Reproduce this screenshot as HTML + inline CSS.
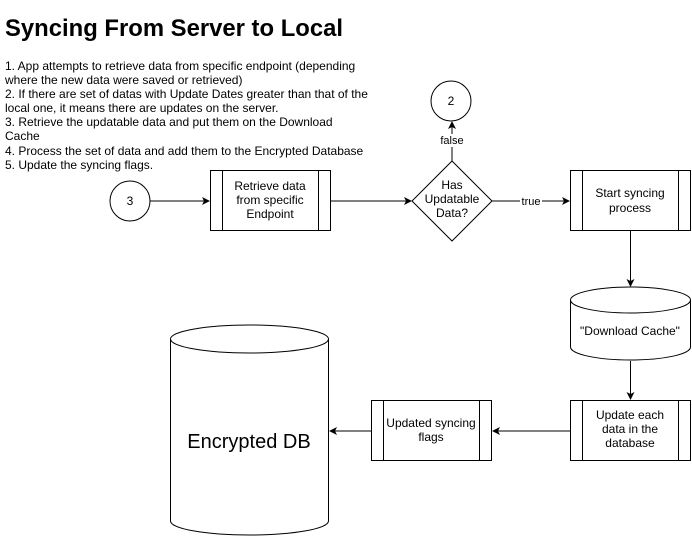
<!DOCTYPE html>
<html><head><meta charset="utf-8"><style>
html,body{margin:0;padding:0;background:#fff;width:692px;height:536px;overflow:hidden}
svg{display:block}
text{font-family:"Liberation Sans",Arial,sans-serif;fill:#000}
</style></head><body>
<svg width="692" height="536" viewBox="0 0 692 536" xmlns="http://www.w3.org/2000/svg">
<defs><marker id="a" markerWidth="10" markerHeight="10" refX="8" refY="5" orient="auto" markerUnits="userSpaceOnUse"><path d="M1,1 L9,5 L1,9 L3,5 Z" fill="#000"/></marker></defs>
<text x="5" y="36" font-size="24" font-weight="bold" textLength="338" lengthAdjust="spacingAndGlyphs">Syncing From Server to Local</text>
<g font-size="12">
<text x="5" y="70">1. App attempts to retrieve data from specific endpoint (depending</text>
<text x="5" y="84">where the new data were saved or retrieved)</text>
<text x="5" y="98">2. If there are set of datas with Update Dates greater than that of the</text>
<text x="5" y="112">local one, it means there are updates on the server.</text>
<text x="5" y="126">3. Retrieve the updatable data and put them on the Download</text>
<text x="5" y="140">Cache</text>
<text x="5" y="155">4. Process the set of data and add them to the Encrypted Database</text>
<text x="5" y="169">5. Update the syncing flags.</text>
</g>
<g fill="#fff" stroke="#000" stroke-width="1">
<circle cx="130" cy="201" r="20"/>
<circle cx="451" cy="101" r="20"/>
<rect x="210.5" y="170.5" width="120" height="60"/>
<line x1="222.5" y1="170.5" x2="222.5" y2="230.5"/><line x1="318.5" y1="170.5" x2="318.5" y2="230.5"/>
<path d="M452,161 L492,201 L452,241 L412,201 Z"/>
<rect x="570.5" y="170.5" width="120" height="60"/>
<line x1="582.5" y1="170.5" x2="582.5" y2="230.5"/><line x1="678.5" y1="170.5" x2="678.5" y2="230.5"/>
<path d="M570.5,300 L570.5,347 A60,13 0 0 0 690.5,347 L690.5,300 A60,13 0 0 0 570.5,300 A60,13 0 0 0 690.5,300"/>
<rect x="570.5" y="400.5" width="120" height="60"/>
<line x1="582.5" y1="400.5" x2="582.5" y2="460.5"/><line x1="678.5" y1="400.5" x2="678.5" y2="460.5"/>
<rect x="371.5" y="400.5" width="120" height="60"/>
<line x1="383.5" y1="400.5" x2="383.5" y2="460.5"/><line x1="479.5" y1="400.5" x2="479.5" y2="460.5"/>
<path d="M170.5,339 L170.5,521 A79,14 0 0 0 328.5,521 L328.5,339 A79,14 0 0 0 170.5,339 A79,14 0 0 0 328.5,339"/>
</g>
<g stroke="#000" fill="none">
<line x1="150" y1="201" x2="209" y2="201" marker-end="url(#a)"/>
<line x1="331" y1="201" x2="411" y2="201" marker-end="url(#a)"/>
<line x1="492" y1="201" x2="569" y2="201" marker-end="url(#a)"/>
<line x1="452" y1="161" x2="452" y2="122" marker-end="url(#a)"/>
<line x1="630.5" y1="231" x2="630.5" y2="286" marker-end="url(#a)"/>
<line x1="630.5" y1="361" x2="630.5" y2="399" marker-end="url(#a)"/>
<line x1="570" y1="431" x2="493" y2="431" marker-end="url(#a)"/>
<line x1="371" y1="431" x2="330" y2="431" marker-end="url(#a)"/>
</g>
<rect x="439" y="134" width="26" height="13" fill="#fff"/>
<rect x="520" y="195" width="22" height="12" fill="#fff"/>
<g font-size="12" text-anchor="middle">
<text x="130" y="205">3</text>
<text x="451" y="105">2</text>
<text x="452" y="144" font-size="11">false</text>
<text x="531" y="205" font-size="11">true</text>
<text x="270" y="190">Retrieve data</text><text x="270" y="204">from specific</text><text x="270" y="218">Endpoint</text>
<text x="452" y="189">Has</text><text x="452" y="203">Updatable</text><text x="452" y="217">Data?</text>
<text x="630" y="197">Start syncing</text><text x="630" y="212">process</text>
<text x="630" y="335">"Download Cache"</text>
<text x="630" y="419">Update each</text><text x="630" y="433">data in the</text><text x="630" y="447">database</text>
<text x="431" y="427">Updated syncing</text><text x="431" y="441">flags</text>
<text x="249" y="448" font-size="20">Encrypted DB</text>
</g>
</svg>
</body></html>
